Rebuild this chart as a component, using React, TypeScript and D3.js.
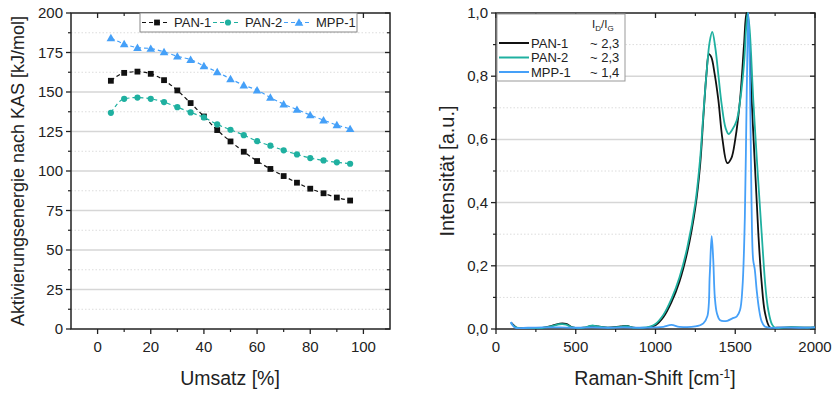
import React from "react";
import * as d3 from "d3";

// left chart: activation energy vs. conversion
const conversion = [5, 10, 15, 20, 25, 30, 35, 40, 45, 50, 55, 60, 65, 70, 75, 80, 85, 90, 95];
const pan1Energy = [157.1, 162.1, 162.9, 161.5, 157.5, 151.0, 143.0, 134.5, 125.9, 118.7, 112.2, 106.3, 101.3, 96.8, 92.6, 88.8, 85.9, 83.2, 81.3];
const pan2Energy = [136.8, 145.7, 146.5, 145.7, 143.6, 140.4, 137.1, 133.9, 129.5, 126.1, 122.7, 118.9, 116.0, 113.1, 110.5, 108.2, 106.7, 105.5, 104.6];
const mppEnergy = [184.2, 180.4, 178.1, 177.5, 175.4, 172.6, 170.5, 166.5, 162.7, 158.3, 154.3, 151.2, 146.5, 142.3, 138.9, 135.4, 132.2, 129.1, 126.7];
const energyTicks = [0, 25, 50, 75, 100, 125, 150, 175, 200];
const conversionTicks = [0, 20, 40, 60, 80, 100];

// right chart: Raman spectra
const pan1Shift = [95, 110, 130, 200, 300, 350, 400, 440, 480, 550, 600, 640, 700, 780, 820, 860, 920, 960, 1000, 1050, 1100, 1150, 1200, 1250, 1280, 1300, 1320, 1335, 1350, 1370, 1394, 1420, 1450, 1475, 1500, 1530, 1555, 1570, 1585, 1603, 1625, 1645, 1665, 1687, 1718, 1760, 1850, 1950, 2000];
const pan1Int = [0.02, 0.012, 0.004, 0.003, 0.004, 0.01, 0.017, 0.016, 0.005, 0.004, 0.01, 0.008, 0.004, 0.008, 0.01, 0.004, 0.003, 0.005, 0.012, 0.038, 0.085, 0.15, 0.245, 0.385, 0.52, 0.67, 0.81, 0.87, 0.86, 0.81, 0.725, 0.6, 0.525, 0.54, 0.6, 0.725, 0.9, 1.0, 0.95, 0.725, 0.5, 0.3, 0.15, 0.05, 0.005, 0.004, 0.005, 0.004, 0.005];
const pan2Shift = [95, 110, 130, 200, 300, 350, 400, 440, 480, 550, 600, 640, 700, 780, 820, 860, 920, 960, 1000, 1050, 1100, 1150, 1200, 1250, 1280, 1300, 1320, 1340, 1356, 1375, 1395, 1415, 1440, 1459, 1480, 1509, 1530, 1555, 1568, 1578, 1590, 1613, 1640, 1666, 1690, 1707, 1730, 1750, 1850, 1950, 2000];
const pan2Int = [0.018, 0.01, 0.004, 0.003, 0.004, 0.009, 0.015, 0.014, 0.005, 0.004, 0.011, 0.008, 0.004, 0.007, 0.009, 0.004, 0.004, 0.007, 0.016, 0.045, 0.095, 0.163, 0.26, 0.4, 0.54, 0.68, 0.81, 0.91, 0.94, 0.89, 0.8, 0.71, 0.635, 0.617, 0.63, 0.66, 0.72, 0.84, 0.95, 1.0, 0.95, 0.725, 0.5, 0.3, 0.13, 0.06, 0.015, 0.004, 0.006, 0.004, 0.005];
const mppShift = [92, 105, 120, 200, 300, 400, 500, 600, 700, 800, 900, 1000, 1050, 1100, 1150, 1250, 1300, 1325, 1340, 1352, 1362, 1372, 1385, 1405, 1450, 1480, 1510, 1530, 1545, 1560, 1572, 1582, 1592, 1602, 1612, 1622, 1635, 1650, 1665, 1685, 1720, 1800, 1900, 2000];
const mppInt = [0.022, 0.012, 0.004, 0.004, 0.005, 0.005, 0.004, 0.005, 0.004, 0.005, 0.004, 0.005, 0.007, 0.013, 0.007, 0.008, 0.018, 0.04, 0.17, 0.294, 0.22, 0.1, 0.05, 0.028, 0.026, 0.033, 0.04, 0.06, 0.13, 0.35, 0.75, 1.0, 0.8, 0.4, 0.22, 0.19, 0.12, 0.06, 0.025, 0.008, 0.004, 0.005, 0.004, 0.005];
const shiftTicks = [0, 500, 1000, 1500, 2000];
const intensityTicks = [0, 0.2, 0.4, 0.6, 0.8, 1.0];

const BLACK = "#111111";
const TEAL = "#1fb0a0";
const BLUE = "#45a0f8";
const FONT = "'Liberation Sans', Arial, sans-serif";

type Scale = d3.ScaleLinear<number, number>;

function Frame({ x, y, majorX, minorX, majorY, minorY, fmtX, fmtY }: {
  x: Scale; y: Scale; majorX: number[]; minorX: number[]; majorY: number[]; minorY: number[];
  fmtX: (v: number) => string; fmtY: (v: number) => string;
}) {
  const [x0, x1] = x.range();
  const [y0, y1] = y.range(); // y0 bottom, y1 top
  return (
    <g>
      {minorY.map((v) => (
        <line key={"mg" + v} x1={x0} x2={x1} y1={y(v)} y2={y(v)} stroke="#dcdcdc" strokeWidth={1} strokeDasharray="1.5,2" />
      ))}
      {majorY.slice(1, -1).map((v) => (
        <line key={"g" + v} x1={x0} x2={x1} y1={y(v)} y2={y(v)} stroke="#d6d6d6" strokeWidth={1.5} />
      ))}
      {/* bottom + top ticks */}
      {majorX.map((v) => (
        <g key={"bx" + v}>
          <line x1={x(v)} x2={x(v)} y1={y0} y2={y0 + 5} stroke="#222" strokeWidth={1.3} />
          <line x1={x(v)} x2={x(v)} y1={y1} y2={y1 + 5} stroke="#222" strokeWidth={1.3} />
          <text x={x(v)} y={y0 + 23} textAnchor="middle" fontSize={15} fill="#222">{fmtX(v)}</text>
        </g>
      ))}
      {minorX.map((v) => (
        <g key={"mx" + v}>
          <line x1={x(v)} x2={x(v)} y1={y0} y2={y0 + 3} stroke="#222" strokeWidth={1.2} />
          <line x1={x(v)} x2={x(v)} y1={y1} y2={y1 + 3} stroke="#222" strokeWidth={1.2} />
        </g>
      ))}
      {majorY.map((v) => (
        <g key={"by" + v}>
          <line x1={x0} x2={x0 - 5} y1={y(v)} y2={y(v)} stroke="#222" strokeWidth={1.3} />
          <line x1={x1} x2={x1 - 5} y1={y(v)} y2={y(v)} stroke="#222" strokeWidth={1.3} />
          <text x={x0 - 8} y={y(v) + 5} textAnchor="end" fontSize={15} fill="#222">{fmtY(v)}</text>
        </g>
      ))}
      {minorY.map((v) => (
        <g key={"my" + v}>
          <line x1={x0} x2={x0 - 3} y1={y(v)} y2={y(v)} stroke="#222" strokeWidth={1.2} />
          <line x1={x1} x2={x1 - 3} y1={y(v)} y2={y(v)} stroke="#222" strokeWidth={1.2} />
        </g>
      ))}
      <rect x={x0} y={y1} width={x1 - x0} height={y0 - y1} fill="none" stroke="#222" strokeWidth={1.5} />
    </g>
  );
}

function Marker({ kind, cx, cy, color }: { kind: string; cx: number; cy: number; color: string }) {
  if (kind === "square") return <rect x={cx - 2.9} y={cy - 2.9} width={5.8} height={5.8} fill={color} />;
  if (kind === "circle") return <circle cx={cx} cy={cy} r={3.1} fill={color} />;
  const p = d3.symbol(d3.symbolTriangle, 32)() as string;
  return <path d={p} transform={`translate(${cx},${cy + 0.8})`} fill={color} />;
}

function EnergyChart() {
  const x = d3.scaleLinear().domain([-10, 110]).range([71, 390]);
  const y = d3.scaleLinear().domain([0, 200]).range([329, 13]);
  const series = [
    { name: "PAN-1", values: pan1Energy, color: BLACK, kind: "square" },
    { name: "PAN-2", values: pan2Energy, color: TEAL, kind: "circle" },
    { name: "MPP-1", values: mppEnergy, color: BLUE, kind: "triangle" },
  ];
  const line = d3.line<number>().x((_, i) => x(conversion[i])).y((d) => y(d)).curve(d3.curveMonotoneX);
  const legendX = [142, 213, 284];
  return (
    <g>
      <Frame
        x={x} y={y}
        majorX={conversionTicks} minorX={[10, 30, 50, 70, 90]}
        majorY={energyTicks} minorY={d3.range(12.5, 200, 25)}
        fmtX={(v) => String(v)} fmtY={(v) => String(v)}
      />
      {series.map((s) => (
        <g key={s.name}>
          <path d={line(s.values) as string} fill="none" stroke={s.color} strokeWidth={1.2} strokeDasharray="4,3" />
          {s.values.map((v, i) => (
            <Marker key={i} kind={s.kind} cx={x(conversion[i])} cy={y(v)} color={s.color} />
          ))}
        </g>
      ))}
      <rect x={140} y={13} width={217} height={19} fill="white" stroke="#888" strokeWidth={1} />
      {series.map((s, i) => (
        <g key={"lg" + s.name}>
          <line x1={legendX[i]} x2={legendX[i] + 28} y1={22.5} y2={22.5} stroke={s.color} strokeWidth={1.2} strokeDasharray="4,3" />
          <Marker kind={s.kind} cx={legendX[i] + 15} cy={22.5} color={s.color} />
          <text x={legendX[i] + 32} y={27} fontSize={13} fill="#222">{s.name}</text>
        </g>
      ))}
      <text transform={`translate(24,${(13 + 329) / 2}) rotate(-90)`} textAnchor="middle" fontSize={18} fill="#222">
        Aktivierungsenergie nach KAS [kJ/mol]
      </text>
      <text x={230} y={385} textAnchor="middle" fontSize={19.5} fill="#222">Umsatz [%]</text>
    </g>
  );
}

function RamanChart() {
  const x = d3.scaleLinear().domain([0, 2000]).range([496, 815]);
  const y = d3.scaleLinear().domain([0, 1]).range([329, 13]);
  const fmt = (v: number) => d3.format(".1f")(v).replace(".", ",");
  const series = [
    { name: "PAN-1", shift: pan1Shift, int: pan1Int, color: BLACK, ratio: "~ 2,3" },
    { name: "PAN-2", shift: pan2Shift, int: pan2Int, color: TEAL, ratio: "~ 2,3" },
    { name: "MPP-1", shift: mppShift, int: mppInt, color: BLUE, ratio: "~ 1,4" },
  ];
  return (
    <g>
      <defs>
        <clipPath id="ramanClip">
          <rect x={496} y={12} width={319} height={318} />
        </clipPath>
      </defs>
      <Frame
        x={x} y={y}
        majorX={shiftTicks} minorX={[250, 750, 1250, 1750]}
        majorY={intensityTicks} minorY={[0.1, 0.3, 0.5, 0.7, 0.9]}
        fmtX={(v) => String(v)} fmtY={fmt}
      />
      <g clipPath="url(#ramanClip)">
        {series.map((s) => {
          const line = d3.line<number>().x((d) => x(d)).y((_, i) => y(s.int[i])).curve(d3.curveCatmullRom.alpha(0.5));
          return <path key={s.name} d={line(s.shift) as string} fill="none" stroke={s.color} strokeWidth={1.8} />;
        })}
      </g>
      <rect x={497} y={14} width={128} height={67} fill="white" stroke="#999" strokeWidth={1} />
      <text x={592} y={28} fontSize={11.5} fill="#222">
        I<tspan fontSize={8} dy={3}>D</tspan><tspan dy={-3}>/I</tspan><tspan fontSize={8} dy={3}>G</tspan>
      </text>
      {series.map((s, i) => (
        <g key={"lg" + s.name}>
          <line x1={499} x2={529} y1={43 + i * 14.5} y2={43 + i * 14.5} stroke={s.color} strokeWidth={2} />
          <text x={531} y={47.5 + i * 14.5} fontSize={13} fill="#222">{s.name}</text>
          <text x={590} y={47.5 + i * 14.5} fontSize={13} fill="#222">{s.ratio}</text>
        </g>
      ))}
      <text transform={`translate(454,${(13 + 329) / 2}) rotate(-90)`} textAnchor="middle" fontSize={20} fill="#222">
        Intensität [a.u.]
      </text>
      <text x={655} y={385} textAnchor="middle" fontSize={19.5} fill="#222">
        Raman-Shift [cm<tspan fontSize={12} dy={-7}>-1</tspan><tspan dy={7}>]</tspan>
      </text>
    </g>
  );
}

export default function App() {
  return (
    <div style={{ position: "absolute", left: 0, top: 0, background: "white" }}>
      <svg width={837} height={393} style={{ display: "block", fontFamily: FONT }}>
        <rect width={837} height={393} fill="white" />
        <EnergyChart />
        <RamanChart />
      </svg>
    </div>
  );
}
